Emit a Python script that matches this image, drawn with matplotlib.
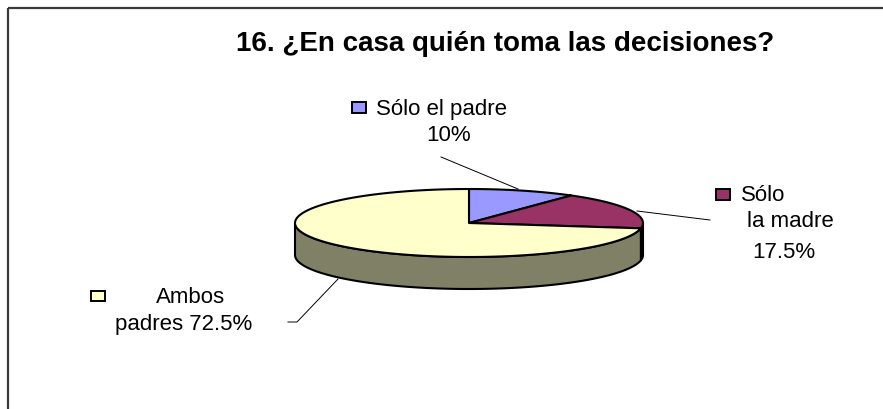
"""Pie chart 16: ¿En casa quién toma las decisiones?  (Excel-style 3D pie)"""
import matplotlib
matplotlib.use("Agg")
import matplotlib.pyplot as plt
from matplotlib.patches import Polygon, Rectangle
import numpy as np

plt.rcParams["font.family"] = ["Liberation Sans", "DejaVu Sans"]

TITLE = "16. ¿En casa quién toma las decisiones?"
LABELS = ["Sólo el padre", "Sólo la madre", "Ambos padres"]
SHARES = [10.0, 17.5, 72.5]
TOP_COLORS = ["#9999FF", "#993366", "#FFFFCC"]
SIDE_COLORS = ["#4D4D80", "#4D1A33", "#808066"]

# geometry of the tilted disc, in pixel units
CX, CY = 469, 224
RX, RY = 174, 34
DEPTH = 32
START = 90.0


def rim(t0, t1, dy=0.0, n=120):
    t = np.radians(np.linspace(t0, t1, n))
    return np.column_stack([CX + RX * np.cos(t), CY - RY * np.sin(t) + dy])


fig = plt.figure(figsize=(8.83, 4.10), dpi=100)
ax = fig.add_axes([0, 0, 1, 1])
ax.set_xlim(0, 883)
ax.set_ylim(410, 0)
ax.axis("off")

# slice angles, going clockwise from 12 o'clock
bounds = []
a = START
for s in SHARES:
    b = a - 360.0 * s / 100.0
    bounds.append((a, b))
    a = b

# front wall (visible between 0 and -180 degrees)
for (a, b), col in zip(bounds, SIDE_COLORS):
    hi, lo = min(a, 0.0), max(b, -180.0)
    if hi <= lo:
        continue
    top = rim(hi, lo)
    bot = rim(lo, hi, dy=DEPTH)
    ax.add_patch(Polygon(np.vstack([top, bot]), closed=True, fc=col,
                         ec="black", lw=1.5, joinstyle="round", zorder=2))

# top faces
for (a, b), col in zip(bounds, TOP_COLORS):
    pts = np.vstack([[CX, CY], rim(a, b)])
    ax.add_patch(Polygon(pts, closed=True, fc=col, ec="black", lw=1.5,
                         joinstyle="round", zorder=3))

fs = 16
key = dict(lw=1.4, ec="black", zorder=5)

# Sólo el padre
ax.add_patch(Rectangle((352, 103), 14, 11, fc=TOP_COLORS[0], **key))
ax.text(376, 109, LABELS[0], fontsize=fs, ha="left", va="center")
ax.text(449, 136, f"{SHARES[0]:g}%", fontsize=fs, ha="center", va="center")
ax.plot([441, 518], [158, 190], color="black", lw=0.7, zorder=4)

# Sólo la madre
ax.add_patch(Rectangle((716, 190), 14, 11, fc=TOP_COLORS[1], **key))
ax.text(741, 196, "Sólo", fontsize=fs, ha="left", va="center")
ax.text(790, 222, "la madre", fontsize=fs, ha="center", va="center")
ax.text(784, 253, f"{SHARES[1]:g}%", fontsize=fs, ha="center", va="center")
ax.plot([637, 710], [212, 221], color="black", lw=0.7, zorder=4)

# Ambos padres
ax.add_patch(Rectangle((91, 292), 14, 10, fc=TOP_COLORS[2], **key))
ax.text(191, 298, "Ambos", fontsize=fs, ha="center", va="center")
ax.text(184, 325, f"padres {SHARES[2]:g}%", fontsize=fs, ha="center",
        va="center")
ax.plot([288, 297, 338], [323, 323, 280], color="black", lw=0.7, zorder=4)

ax.text(505, 51, TITLE, fontsize=20, fontweight="bold", ha="center",
        va="baseline")

# chart area border (only top and left edges fall inside the image)
ax.plot([7.5, 883], [8.5, 8.5], color="#3a3a3a", lw=1.6,
        solid_capstyle="butt")
ax.plot([7.5, 7.5], [8.5, 410], color="#3a3a3a", lw=1.6,
        solid_capstyle="butt")

fig.savefig("out.png", dpi=100)
